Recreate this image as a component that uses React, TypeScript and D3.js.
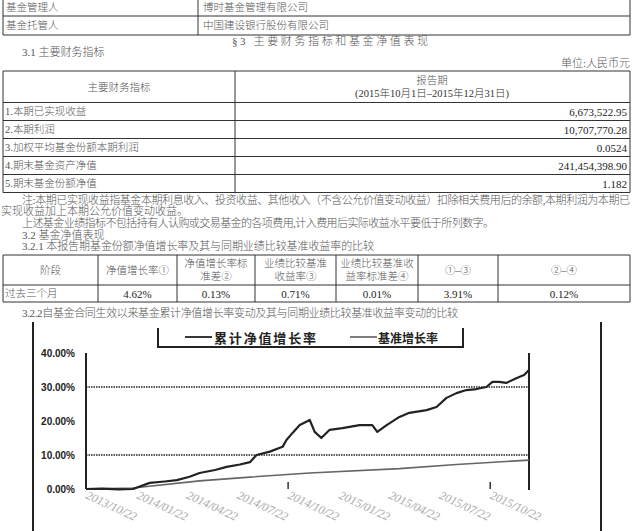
import * as d3 from "d3";

// top info table
const infoRows = [
  ["基金管理人", "博时基金管理有限公司"],
  ["基金托管人", "中国建设银行股份有限公司"],
];

// 3.1 main financial indicators
const indicatorNames = [
  "1.本期已实现收益",
  "2.本期利润",
  "3.加权平均基金份额本期利润",
  "4.期末基金资产净值",
  "5.期末基金份额净值",
];
const indicatorValues = ["6,673,522.95", "10,707,770.28", "0.0524", "241,454,398.90", "1.182"];

// 3.2.1 comparison table
const perfHeaders = [
  ["阶段"],
  ["净值增长率①"],
  ["净值增长率标", "准差②"],
  ["业绩比较基准", "收益率③"],
  ["业绩比较基准收", "益率标准差④"],
  ["①–③"],
  ["②–④"],
];
const perfRow = ["过去三个月", "4.62%", "0.13%", "0.71%", "0.01%", "3.91%", "0.12%"];

// 3.2.2 chart data (cumulative %)
const fundDates = [
  "2013-10-22", "2013-11-20", "2013-12-20", "2014-01-15", "2014-02-14", "2014-03-13",
  "2014-04-04", "2014-04-27", "2014-05-15", "2014-06-12", "2014-07-03", "2014-07-27",
  "2014-08-14", "2014-08-26", "2014-09-19", "2014-10-12", "2014-10-19", "2014-10-30",
  "2014-11-12", "2014-11-30", "2014-12-09", "2014-12-21", "2015-01-05", "2015-01-28",
  "2015-02-28", "2015-03-23", "2015-04-01", "2015-04-18", "2015-05-11", "2015-05-29",
  "2015-06-29", "2015-07-17", "2015-08-04", "2015-08-22", "2015-09-09", "2015-09-27",
  "2015-10-15", "2015-10-26", "2015-11-07", "2015-11-20", "2015-12-08", "2015-12-22",
  "2015-12-31",
];
const fundValues = [
  0.0, 0.1, -0.1, 0.0, 1.8, 2.2,
  2.6, 3.6, 4.7, 5.6, 6.5, 7.2,
  7.9, 10.0, 11.0, 12.4, 14.4, 16.5,
  18.8, 20.3, 16.8, 15.0, 17.4, 17.9,
  18.8, 18.8, 16.8, 18.8, 21.2, 22.4,
  23.2, 24.1, 26.8, 28.2, 29.1, 29.4,
  30.0, 31.5, 31.5, 31.2, 32.6, 33.5,
  35.0,
];
const benchDates = ["2013-10-22", "2014-01-15", "2014-05-15", "2014-08-14", "2014-11-30", "2015-05-11", "2015-08-22", "2015-12-31"];
const benchValues = [0.0, 0.3, 2.4, 3.5, 4.7, 6.0, 7.2, 8.5];

const yTicks = [0, 10, 20, 30, 40];
const yGrid = [10, 30];
const xTickLabels = [
  "2013/10/22", "2014/01/22", "2014/04/22", "2014/07/22", "2014/10/22",
  "2015/01/22", "2015/04/22", "2015/07/22", "2015/10/22",
];
const xMajorTicks = ["2014/10/22", "2015/10/22"];
const legendLabels = ["累计净值增长率", "基准增长率"];

const CJK = "'Liberation Serif', 'Noto Sans CJK SC', serif";
const parse = d3.timeParse("%Y-%m-%d");
const parseSlash = d3.timeParse("%Y/%m/%d");

const T = ({ x, y, children, anchor = "start", size = 11, fill = "#555", len, weight = 300, family = CJK }: any) => (
  <text
    x={x}
    y={y}
    textAnchor={anchor}
    dominantBaseline="central"
    fontSize={size}
    fill={fill}
    fontWeight={weight}
    fontFamily={family}
    textLength={len}
    lengthAdjust={len ? "spacing" : undefined}
  >
    {children}
  </text>
);

export default function App() {
  const W = 632;
  const H = 531;

  // table geometry
  const t1Rows = [-1, 16, 35];
  const t2Top = 71;
  const t2HeadBottom = 102.5;
  const t2RowH = 18;
  const t2Split = 235;
  const t3Cols = [3, 98, 177, 255, 336, 418, 498, 630];
  const t3Rows = [255, 285, 302];

  // chart scales
  const x = d3
    .scaleTime()
    .domain([parse("2013-10-22")!, parse("2015-12-31")!])
    .range([86, 529]);
  const y = d3.scaleLinear().domain([0, 40]).range([489, 353]);

  const fund = fundDates.map((d, i) => ({ date: parse(d)!, v: fundValues[i] }));
  const bench = benchDates.map((d, i) => ({ date: parse(d)!, v: benchValues[i] }));
  const line = d3
    .line<{ date: Date; v: number }>()
    .x((d) => x(d.date))
    .y((d) => y(d.v));

  const stroke = "#333";

  return (
    <svg width={W} height={H} style={{ position: "absolute", left: 0, top: 0, background: "#fff" }}>
      {/* top table */}
      <g stroke={stroke} strokeWidth={1}>
        {t1Rows.map((r, i) => (
          <line key={i} x1={3} x2={630} y1={r} y2={r} />
        ))}
        <line x1={3} x2={3} y1={-1} y2={35} />
        <line x1={198} x2={198} y1={-1} y2={35} />
        <line x1={630} x2={630} y1={-1} y2={35} />
      </g>
      {infoRows.map((r, i) => (
        <g key={i}>
          <T x={6} y={(t1Rows[i] + t1Rows[i + 1]) / 2} size={10.5}>{r[0]}</T>
          <T x={203} y={(t1Rows[i] + t1Rows[i + 1]) / 2} size={10.5}>{r[1]}</T>
        </g>
      ))}

      <T x={330} y={41} anchor="middle" len={196}>§3  主要财务指标和基金净值表现</T>
      <T x={22} y={52}>3.1 主要财务指标</T>
      <T x={630} y={63} anchor="end">单位:人民币元</T>

      {/* 3.1 table */}
      <g stroke={stroke} strokeWidth={1}>
        <line x1={3} x2={630} y1={t2Top} y2={t2Top} />
        <line x1={3} x2={630} y1={t2HeadBottom} y2={t2HeadBottom} />
        {indicatorNames.map((_, i) => (
          <line key={i} x1={3} x2={630} y1={t2HeadBottom + (i + 1) * t2RowH} y2={t2HeadBottom + (i + 1) * t2RowH} />
        ))}
        <line x1={3} x2={3} y1={t2Top} y2={t2HeadBottom + 5 * t2RowH} />
        <line x1={t2Split} x2={t2Split} y1={t2Top} y2={t2HeadBottom + 5 * t2RowH} />
        <line x1={630} x2={630} y1={t2Top} y2={t2HeadBottom + 5 * t2RowH} />
      </g>
      <T x={119} y={87} anchor="middle" size={10.5}>主要财务指标</T>
      <T x={432} y={80} anchor="middle" size={10.5}>报告期</T>
      <T x={432} y={93} anchor="middle" size={10.5} fill="#333">(2015年10月1日–2015年12月31日)</T>
      {indicatorNames.map((n, i) => (
        <g key={n}>
          <T x={5} y={t2HeadBottom + (i + 0.5) * t2RowH} size={10.5}>{n}</T>
          <T x={627} y={t2HeadBottom + (i + 0.5) * t2RowH} anchor="end" size={11} fill="#222">
            {indicatorValues[i]}
          </T>
        </g>
      ))}

      {/* notes */}
      <T x={22} y={200} len={608}>注:本期已实现收益指基金本期利息收入、投资收益、其他收入（不含公允价值变动收益）扣除相关费用后的余额,本期利润为本期已</T>
      <T x={1} y={211}>实现收益加上本期公允价值变动收益。</T>
      <T x={22} y={223} len={472}>上述基金业绩指标不包括持有人认购或交易基金的各项费用,计入费用后实际收益水平要低于所列数字。</T>
      <T x={22} y={235}>3.2 基金净值表现</T>
      <T x={22} y={246} len={352}>3.2.1 本报告期基金份额净值增长率及其与同期业绩比较基准收益率的比较</T>

      {/* 3.2.1 table */}
      <g stroke={stroke} strokeWidth={1}>
        {t3Rows.map((r, i) => (
          <line key={i} x1={3} x2={630} y1={r} y2={r} />
        ))}
        {t3Cols.map((c, i) => (
          <line key={i} x1={c} x2={c} y1={t3Rows[0]} y2={t3Rows[2]} />
        ))}
      </g>
      {perfHeaders.map((h, i) => {
        const cx = (t3Cols[i] + t3Cols[i + 1]) / 2;
        const cy = (t3Rows[0] + t3Rows[1]) / 2;
        return h.length === 1 ? (
          <T key={i} x={cx} y={cy} anchor="middle" size={10.5}>{h[0]}</T>
        ) : (
          <g key={i}>
            <T x={cx} y={cy - 6.5} anchor="middle" size={10.5}>{h[0]}</T>
            <T x={cx} y={cy + 6.5} anchor="middle" size={10.5}>{h[1]}</T>
          </g>
        );
      })}
      {perfRow.map((v, i) => (
        <T
          key={i}
          x={i === 0 ? 5 : (t3Cols[i] + t3Cols[i + 1]) / 2}
          y={(t3Rows[1] + t3Rows[2]) / 2}
          anchor={i === 0 ? "start" : "middle"}
          size={i === 0 ? 10.5 : 11}
          fill={i === 0 ? "#555" : "#222"}
        >
          {v}
        </T>
      ))}
      <T x={22} y={313} len={436}>3.2.2自基金合同生效以来基金累计净值增长率变动及其与同期业绩比较基准收益率变动的比较</T>

      {/* chart outer frame */}
      <g stroke="#222" strokeWidth={2}>
        <line x1={33} x2={33} y1={322} y2={H} />
        <line x1={601} x2={601} y1={322} y2={H} />
      </g>

      {/* legend */}
      <path d="M158,328 V347 H463 V328" fill="none" stroke="#222" strokeWidth={2} />
      <line x1={185} x2={212} y1={337} y2={337} stroke="#222" strokeWidth={1.8} />
      <T x={214} y={337} size={13} weight={700} fill="#222" len={102} family="'Noto Sans CJK SC', sans-serif">
        {legendLabels[0]}
      </T>
      <line x1={350} x2={377} y1={337} y2={337} stroke="#555" strokeWidth={1.5} />
      <T x={378} y={337} size={12} weight={700} fill="#222" len={60} family="'Noto Sans CJK SC', sans-serif">
        {legendLabels[1]}
      </T>

      {/* plot axes */}
      <g stroke="#222" strokeWidth={2}>
        <line x1={86} x2={86} y1={y(40)} y2={y(0)} />
        <line x1={529} x2={529} y1={y(40)} y2={y(0) + 1} />
      </g>
      {yGrid.map((g) => (
        <line key={g} x1={86} x2={529} y1={y(g)} y2={y(g)} stroke="#222" strokeWidth={1.6} strokeDasharray="1.5,1" />
      ))}
      {yTicks.map((t) => (
        <T key={t} x={75} y={y(t)} anchor="end" size={10} weight={700} fill="#222" family="'Liberation Sans', sans-serif">
          {`${t.toFixed(2)}%`}
        </T>
      ))}
      {xMajorTicks.map((t) => (
        <line key={t} x1={x(parseSlash(t)!)} x2={x(parseSlash(t)!)} y1={y(0) - 7} y2={y(0)} stroke="#333" strokeWidth={1.5} />
      ))}
      {xTickLabels.map((t) => {
        const px = x(parseSlash(t)!);
        return (
          <text
            key={t}
            transform={`translate(${px - 1},${y(0) + 9}) rotate(25)`}
            fontSize={12}
            fontStyle="italic"
            fill="#aaa"
            fontFamily="'Liberation Serif', serif"
          >
            {t}
          </text>
        );
      })}

      {/* series */}
      <path d={line(bench) || ""} fill="none" stroke="#666" strokeWidth={1.6} />
      <path d={line(fund) || ""} fill="none" stroke="#222" strokeWidth={2.2} strokeLinejoin="round" />
    </svg>
  );
}
